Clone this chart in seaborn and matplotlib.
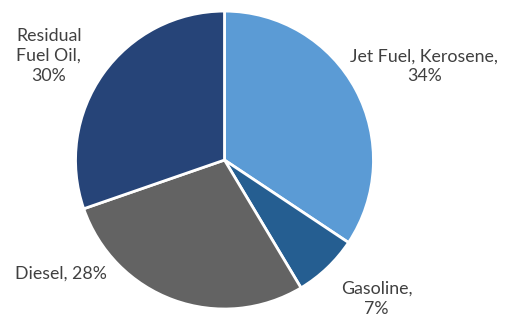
import matplotlib
matplotlib.use("Agg")
import matplotlib.pyplot as plt
import seaborn as sns

# данные
fuels = ["Jet Fuel, Kerosene", "Gasoline", "Diesel", "Residual Fuel Oil"]
shares = [34, 7, 28, 30]
label_texts = ["Jet Fuel, Kerosene,\n34%", "Gasoline,\n7%", "Diesel, 28%", "Residual\nFuel Oil,\n30%"]
colors = ["#5B9BD5", "#255E91", "#636363", "#264478"]

sns.set_style("white")
plt.rcParams['font.family'] = ['Lato', 'DejaVu Sans']

fig = plt.figure(figsize=(5.19, 3.18), dpi=100)
ax = fig.add_axes([0, 0, 1, 1])

wedges, texts = ax.pie(
    shares,
    labels=label_texts,
    colors=colors,
    startangle=90,
    counterclock=False,
    wedgeprops=dict(edgecolor="white", linewidth=2),
    textprops=dict(color="#404040", fontsize=12.8),
)

# позиции подписей (как в исходной картинке)
label_pos = [(1.34, 0.63), (1.02, -0.93), (-1.10, -0.76), (-1.18, 0.70)]
for t, (x, y) in zip(texts, label_pos):
    t.set_position((x, y))
    t.set_ha("center")
    t.set_va("center")
    t.set_multialignment("center")
    t.set_linespacing(1.3)

ax.set_xlim(-1.507, 1.977)
ax.set_ylim(-1.060, 1.074)
ax.set_aspect("equal")
ax.axis("off")

fig.savefig("out.png", dpi=100)
